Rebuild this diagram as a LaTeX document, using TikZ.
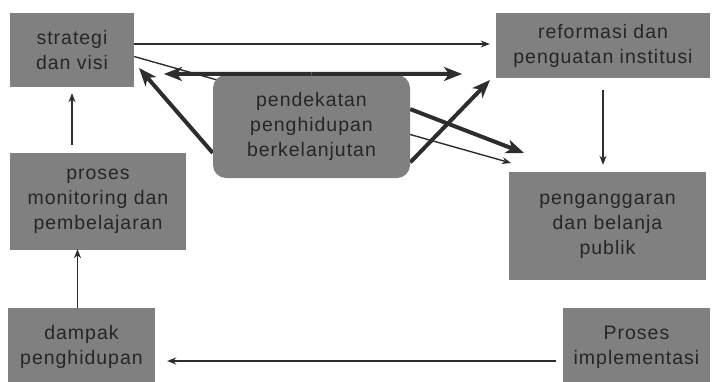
\documentclass[tikz,border=0pt]{standalone}
\usepackage{fontspec}
\setmainfont{Liberation Sans}[LetterSpace=5]
\usetikzlibrary{arrows.meta,calc}
\definecolor{boxgray}{RGB}{128,128,128}
\definecolor{ink}{RGB}{45,45,45}
\definecolor{txt}{RGB}{38,38,38}
\pgfdeclarelayer{bg}
\pgfsetlayers{bg,main}
\begin{document}
\begin{tikzpicture}[x=1pt,y=-1pt,
  box/.style={fill=boxgray, draw=none, text=txt, align=center,
    font=\fontsize{19.5}{25}\selectfont, inner sep=0pt},
  thinarrow/.style={draw=ink, line width=1.4pt, -{Stealth[length=9pt,width=7pt]}},
  boldarrow/.style={draw=ink, line width=4pt, -{Stealth[length=18pt,width=14pt,inset=5pt]}}]
\clip (0,0) rectangle (720,381);

% boxes
\node[box, minimum width=124pt, minimum height=74pt] (sv) at (72,50) {strategi\\dan visi};
\node[box, minimum width=214pt, minimum height=65pt] (ref) at (603,45.5) {reformasi dan\\penguatan institusi};
\node[box, minimum width=176pt, minimum height=97pt] (mon) at (98,201.5) {proses\\monitoring dan\\pembelajaran};
\node[box, minimum width=197pt, minimum height=108pt] (ang) at (607.5,226) {penganggaran\\dan belanja\\publik};
\node[box, minimum width=147pt, minimum height=78pt] (dam) at (81.5,347) {dampak\\penghidupan};
\node[box, minimum width=147pt, minimum height=78pt] (imp) at (636.5,347) {Proses\\implementasi};
\node[box, rounded corners=13pt, minimum width=197pt, minimum height=103pt] (pend) at (311.5,126.5)
  {pendekatan\\penghidupan\\berkelanjutan};

% free arrow ends
\coordinate (tipL) at (164,74);
\coordinate (tipR) at (462,74);
\coordinate (tipSV) at (139,68);
\coordinate (tipRef) at (490,80);
\coordinate (tipAng) at (524,153);
\coordinate (tipAngThin) at (511,163);

% page background and connectors passing behind the central box
\begin{pgfonlayer}{bg}
  \fill[white] (0,0) rectangle (720,381);
  \draw[thinarrow] (sv.-6) -- (tipAngThin);
  \draw[boldarrow] (pend.195) -- (tipSV);
  \draw[boldarrow] (pend.-20) -- (tipRef);
  \draw[boldarrow] (pend.10) -- (tipAng);
\end{pgfonlayer}

% connectors on top
\draw[boldarrow] ([yshift=1pt]pend.north) -- (tipL);
\draw[boldarrow] ([yshift=1pt]pend.north) -- (tipR);
\draw[thinarrow, shorten >=6pt] ([yshift=6pt]sv.east) -- ([yshift=6pt]sv.east -| ref.west);
\draw[thinarrow, shorten <=12pt, shorten >=7pt] (ref.south) -- (ref.south |- ang.north);
\draw[thinarrow, shorten <=8pt, shorten >=6pt] (mon.north -| sv.south) -- (sv.south);
\draw[thinarrow, shorten >=-1pt] ([xshift=-4pt]dam.north) -- ([xshift=-4pt]dam.north |- mon.south);
\draw[thinarrow, shorten <=7pt, shorten >=12pt] ([yshift=-14pt]imp.west) -- ([yshift=-14pt]dam.east);
\end{tikzpicture}
\end{document}
